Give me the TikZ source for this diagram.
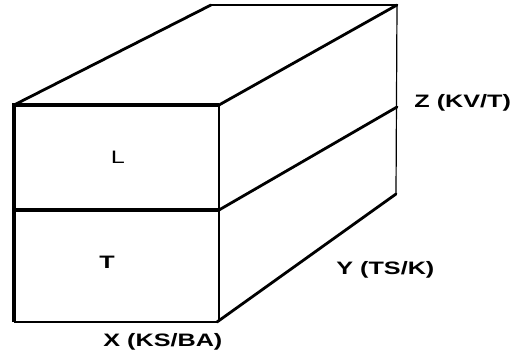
\documentclass[tikz,border=0pt]{standalone}
\usepackage{fontspec}
\setmainfont{Liberation Sans}
\usepackage{graphicx}
\usetikzlibrary{calc}
\newcommand{\wide}[1]{\scalebox{1.4}[1]{#1}}
\tikzset{
  heavy/.style={line width=1.6pt},
  edge/.style={line width=1.4pt,line cap=round},
  hair/.style={line width=0.6pt},
  lab/.style={font=\fontsize{9}{10}\selectfont\bfseries,inner sep=0pt}
}
\begin{document}
\begin{tikzpicture}[x=0.5pt,y=0.5pt]
\useasboundingbox (0,0) rectangle (514,360);
% front face
\coordinate (ftl) at (14,255);
\coordinate (ftr) at (219,255);
\coordinate (fml) at (14,150);
\coordinate (fmr) at (219,150);
\coordinate (fbl) at (14,38);
\coordinate (fbr) at (217,38);
% back edges
\coordinate (btl) at (211,355);
\coordinate (btr) at (397,355);
\coordinate (bmr) at (397,253);
\coordinate (bbr) at (396,166);
\draw[heavy] (fbl)--(ftl)--(ftr);
\draw[heavy] (fml)--(fmr);
\draw[line width=1.1pt] (fbl)--(fbr);
\draw[hair] (ftr)--(219,40);
\draw[hair] (btr)--(bbr);
\draw[line width=1.1pt] (btl)--(btr);
\draw[edge] (ftl)--(btl);
\draw[edge] (ftr)--(btr);
\draw[edge] (fmr)--(bmr);
\draw[edge] (fbr)--(bbr);
\node[lab,font=\fontsize{9}{10}\selectfont] (lyrL) at (118,203) {\wide{L}};
\node[lab] (lyrT) at (107,98) {\wide{T}};
\node[lab,anchor=west] (axZ) at (414,257) {\wide{Z (KV/T)}};
\node[lab,anchor=west] (axY) at (336,90) {\wide{Y (TS/K)}};
\node[lab,anchor=west] (axX) at (103,18) {\wide{X (KS/BA)}};
\end{tikzpicture}
\end{document}
